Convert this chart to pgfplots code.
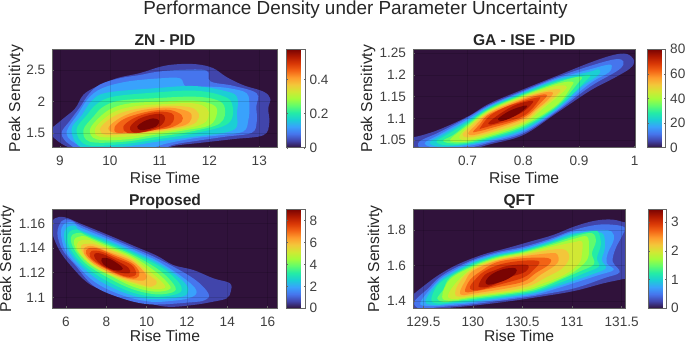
\documentclass[border=0pt]{standalone}
\usepackage{fontspec}
\setmainfont{Liberation Sans}
\usepackage{pgfplots}
\pgfplotsset{compat=1.18}
\definecolor{t0}{RGB}{48,18,59}
\definecolor{t1}{RGB}{65,69,171}
\definecolor{t2}{RGB}{70,117,237}
\definecolor{t3}{RGB}{57,162,252}
\definecolor{t4}{RGB}{27,207,212}
\definecolor{t5}{RGB}{36,236,166}
\definecolor{t6}{RGB}{97,252,108}
\definecolor{t7}{RGB}{164,252,59}
\definecolor{t8}{RGB}{209,232,52}
\definecolor{t9}{RGB}{243,198,58}
\definecolor{t10}{RGB}{254,155,45}
\definecolor{t11}{RGB}{243,99,21}
\definecolor{t12}{RGB}{217,56,6}
\definecolor{t13}{RGB}{177,25,1}
\definecolor{t14}{RGB}{122,4,2}
\definecolor{fr}{RGB}{100,100,100}
\definecolor{tx}{RGB}{64,64,64}
\newcommand\lv[2]{\addplot[fill=t#1,draw=none,mark=none,smooth cycle,tension=0.6,forget plot] coordinates {#2};}
\newcommand\tk{\fontsize{13.6bp}{16bp}\selectfont}
\pgfplotsset{
 colormap={turbo}{rgb255=(48,18,59) rgb255=(65,69,171) rgb255=(70,117,237) rgb255=(57,162,252) rgb255=(27,207,212) rgb255=(36,236,166) rgb255=(97,252,108) rgb255=(164,252,59) rgb255=(209,232,52) rgb255=(243,198,58) rgb255=(254,155,45) rgb255=(243,99,21) rgb255=(217,56,6) rgb255=(177,25,1) rgb255=(122,4,2)},
 panel/.style={
  scale only axis, anchor=south west,
  axis background/.style={fill=t0},
  axis on top, grid=major, grid style={black,opacity=0.13,line width=0.4bp},
  axis line style={fr,line width=0.7bp},
  tick align=inside, major tick length=2bp, tick style={fr,line width=0.4bp},
  xtick pos=bottom, ytick pos=left,
  tick label style={font=\tk,text=tx},
  x tick label style={yshift=-5bp},
  y tick label style={xshift=-3.5bp},
  xlabel style={at={(axis description cs:0.5,0)},anchor=base,yshift=-36bp,font=\fontsize{15.7bp}{18bp}\selectfont,text=black!85},
  title style={at={(axis description cs:0.5,1)},anchor=base,yshift=-2bp,font=\fontsize{15.6bp}{18bp}\selectfont\bfseries,text=black!85},
  xlabel={Rise Time}, ylabel={Peak Sensitivty},
  colorbar,
  colorbar shift/.style={},
  colorbar style={
   at={(parent axis.north east)},anchor=north west,
   scale only axis,
   axis line style={fr,line width=0.7bp},
   tick align=inside, major tick length=1.5bp, tick style={fr,line width=0.4bp},
   y tick label style={font=\tk,text=tx,xshift=1bp},
   yticklabel pos=right,
  },
 },
 low/.style={xlabel style={yshift=2.8bp}},
 yl/.style={ylabel style={at={(axis description cs:#1,0.5)},anchor=center,rotate=0,font=\fontsize{15.7bp}{18bp}\selectfont,text=black!85}},
}
\begin{document}
\begin{tikzpicture}[x=1bp,y=1bp]
\path[use as bounding box] (0,0) rectangle (685,345);
\node[font=\fontsize{18.9bp}{22bp}\selectfont,text=black!85,anchor=base] at (355.5,331) {Performance Density under Parameter Uncertainty};

% ZN - PID
\begin{axis}[panel,yl=-0.161,at={(52.3bp,197.3bp)},width=225.4bp,height=98.4bp,
 xmin=8.845,xmax=13.37,ymin=1.274,ymax=2.826,
 xtick={9,10,11,12,13},xticklabels={9,10,11,12,13},
 ytick={1.5,2,2.5},yticklabels={1.5,2,2.5},
 title={ZN - PID},
 point meta min=0,point meta max=0.5756,
 colorbar style={xshift=9bp,width=18.3bp,height=98.4bp,ytick={0,0.2,0.4},yticklabels={0,0.2,0.4}},
]
\lv{1}{(8.80,1.53) (9.03,1.71) (9.30,1.89) (9.47,2.11) (9.74,2.24) (10.14,2.37) (10.60,2.45) (11.01,2.55) (11.34,2.59) (11.74,2.59) (12.07,2.53) (12.34,2.39) (12.68,2.26) (13.08,2.16) (13.22,2.05) (13.18,1.89) (13.20,1.66) (13.08,1.47) (12.48,1.41) (11.81,1.35) (11.27,1.30) (10.94,1.21) (9.47,1.21) (9.23,1.26) (8.97,1.37)}
\lv{2}{(9.03,1.50) (9.20,1.70) (9.40,1.91) (9.57,2.11) (9.80,2.27) (10.20,2.37) (10.60,2.42) (10.94,2.47) (11.41,2.50) (11.94,2.49) (12.02,2.32) (12.48,2.25) (12.95,2.13) (12.94,1.92) (12.95,1.69) (12.85,1.51) (12.34,1.45) (11.81,1.39) (11.27,1.32) (10.87,1.21) (9.60,1.21) (9.20,1.32)}
\lv{3}{(9.13,1.50) (9.37,1.816) (9.57,2.053) (9.84,2.21) (10.34,2.316) (11.01,2.368) (11.41,2.368) (11.54,2.237) (12.01,2.237) (12.41,2.21) (12.75,2.13) (12.80,1.92) (12.78,1.71) (12.68,1.53) (12.21,1.47) (11.67,1.42) (11.14,1.34) (10.74,1.26) (9.80,1.21) (9.40,1.30)}
\lv{4}{(9.23,1.553) (9.44,1.789) (9.64,2.016) (9.94,2.142) (10.87,2.21) (11.68,2.247) (12.28,2.174) (12.55,2.079) (12.55,1.816) (12.48,1.553) (11.68,1.447) (10.94,1.368) (10.27,1.289) (9.47,1.263)}
\lv{5}{(9.33,1.553) (9.54,1.789) (9.74,1.963) (10.07,2.079) (10.87,2.142) (11.68,2.174) (12.21,2.105) (12.45,1.974) (12.38,1.658) (11.68,1.50) (10.94,1.405) (10.27,1.332) (9.54,1.316)}
\lv{6}{(9.47,1.553) (9.67,1.763) (9.87,1.921) (10.20,2.016) (10.87,2.053) (11.68,2.079) (12.15,2.026) (12.31,1.895) (12.21,1.658) (11.61,1.526) (10.87,1.437) (10.27,1.368) (9.60,1.368)}
\lv{7}{(9.60,1.553) (9.77,1.737) (10.04,1.895) (10.41,1.974) (11.01,2.0) (11.68,2.016) (12.08,1.947) (12.15,1.816) (12.01,1.632) (11.54,1.553) (10.87,1.474) (10.34,1.405) (9.74,1.405)}
\lv{8}{(9.70,1.563) (9.87,1.721) (10.14,1.858) (10.54,1.932) (11.14,1.963) (11.68,1.974) (11.95,1.895) (11.98,1.763) (11.88,1.658) (11.54,1.579) (10.94,1.511) (10.34,1.447) (9.80,1.447)}
\lv{9}{(9.80,1.563) (9.97,1.711) (10.24,1.826) (10.61,1.895) (11.14,1.932) (11.61,1.911) (11.78,1.816) (11.74,1.684) (11.51,1.605) (11.01,1.537) (10.47,1.50) (9.94,1.474)}
\lv{10}{(9.97,1.579) (10.14,1.711) (10.41,1.816) (10.74,1.879) (11.21,1.905) (11.58,1.842) (11.64,1.737) (11.51,1.632) (11.07,1.563) (10.61,1.526) (10.14,1.50)}
\lv{11}{(10.10,1.605) (10.27,1.721) (10.54,1.80) (10.87,1.858) (11.21,1.868) (11.44,1.789) (11.44,1.684) (11.21,1.589) (10.87,1.553) (10.47,1.526) (10.14,1.511)}
\lv{12}{(10.27,1.605) (10.44,1.721) (10.71,1.805) (11.01,1.842) (11.24,1.816) (11.29,1.737) (11.21,1.632) (10.94,1.563) (10.61,1.511) (10.34,1.511)}
\lv{13}{(10.41,1.605) (10.57,1.721) (10.81,1.789) (11.04,1.805) (11.11,1.737) (11.04,1.632) (10.81,1.553) (10.57,1.511) (10.44,1.526)}
\lv{14}{(10.55,1.605) (10.67,1.684) (10.87,1.737) (10.99,1.70) (10.94,1.616) (10.75,1.563) (10.61,1.553)}
\end{axis}

% GA - ISE - PID
\begin{axis}[panel,yl=-0.202,at={(413bp,197.3bp)},width=222.3bp,height=98.4bp,
 xmin=0.602,xmax=1.0012,ymin=1.0323,ymax=1.2592,
 xtick={0.7,0.8,0.9,1},xticklabels={0.7,0.8,0.9,1},
 ytick={1.05,1.1,1.15,1.2,1.25},yticklabels={1.05,1.1,1.15,1.2,1.25},
 title={GA - ISE - PID},
 point meta min=0,point meta max=80,
 colorbar style={xshift=12.4bp,width=18bp,height=98.4bp,ytick={0,20,40,60,80},yticklabels={0,20,40,60,80}},
]
\lv{1}{(0.593,1.05) (0.620,1.0615) (0.650,1.0746) (0.700,1.1038) (0.740,1.1346) (0.800,1.1669) (0.860,1.1977) (0.920,1.2285) (0.962,1.2462) (0.986,1.2485) (0.999,1.2331) (0.992,1.2154) (0.962,1.1923) (0.920,1.1638) (0.860,1.1123) (0.800,1.0615) (0.740,1.04) (0.700,1.0269) (0.650,1.0192) (0.602,1.0192)}
\lv{2}{(0.611,1.042) (0.620,1.0515) (0.650,1.0685) (0.700,1.1023) (0.740,1.1315) (0.800,1.1638) (0.860,1.1946) (0.920,1.2208) (0.965,1.2362) (0.980,1.2308) (0.971,1.2115) (0.920,1.1731) (0.860,1.1154) (0.800,1.0654) (0.740,1.0438) (0.700,1.0315) (0.650,1.0254) (0.617,1.0308)}
\lv{3}{(0.623,1.042) (0.650,1.0631) (0.700,1.0985) (0.740,1.1292) (0.800,1.1615) (0.860,1.1915) (0.920,1.2131) (0.950,1.2231) (0.959,1.2215) (0.953,1.2054) (0.920,1.1808) (0.860,1.1185) (0.800,1.0692) (0.740,1.0469) (0.700,1.0362) (0.650,1.0308)}
\lv{4}{(0.632,1.0438) (0.650,1.0585) (0.700,1.0946) (0.740,1.1269) (0.800,1.1592) (0.860,1.1885) (0.920,1.2077) (0.936,1.2131) (0.935,1.20) (0.905,1.1731) (0.860,1.1215) (0.800,1.0731) (0.740,1.05) (0.700,1.0392) (0.650,1.0346)}
\lv{5}{(0.644,1.0462) (0.662,1.0615) (0.70,1.0908) (0.74,1.1246) (0.80,1.1569) (0.86,1.1854) (0.905,1.1977) (0.919,1.20) (0.914,1.1885) (0.86,1.1246) (0.80,1.0769) (0.74,1.0531) (0.70,1.0415) (0.662,1.0377)}
\lv{6}{(0.656,1.0485) (0.674,1.0615) (0.70,1.0869) (0.74,1.1223) (0.80,1.1546) (0.86,1.1823) (0.893,1.1946) (0.905,1.1946) (0.899,1.1823) (0.86,1.1277) (0.80,1.0808) (0.74,1.0562) (0.70,1.0438) (0.671,1.0423)}
\lv{7}{(0.669,1.0515) (0.70,1.0831) (0.74,1.12) (0.80,1.1523) (0.86,1.1792) (0.887,1.1846) (0.887,1.1746) (0.86,1.1308) (0.80,1.0846) (0.74,1.0592) (0.70,1.0469) (0.680,1.0454)}
\lv{8}{(0.685,1.0562) (0.70,1.0792) (0.74,1.1177) (0.80,1.15) (0.854,1.1731) (0.877,1.1746) (0.872,1.1615) (0.836,1.1231) (0.80,1.0885) (0.74,1.0631) (0.70,1.05)}
\lv{9}{(0.691,1.0615) (0.704,1.0792) (0.74,1.1154) (0.80,1.1477) (0.842,1.1638) (0.866,1.1669) (0.860,1.1538) (0.830,1.1231) (0.80,1.0923) (0.74,1.0669) (0.704,1.0562)}
\lv{10}{(0.701,1.0654) (0.713,1.0823) (0.74,1.1131) (0.80,1.1454) (0.836,1.1592) (0.853,1.1592) (0.845,1.1438) (0.821,1.1177) (0.80,1.0977) (0.74,1.0715) (0.71,1.0615)}
\lv{11}{(0.71,1.0692) (0.722,1.0862) (0.74,1.11) (0.80,1.1423) (0.83,1.1538) (0.843,1.1538) (0.833,1.1385) (0.80,1.1015) (0.74,1.0769) (0.716,1.0692)}
\lv{12}{(0.722,1.0769) (0.74,1.1062) (0.77,1.1269) (0.80,1.1392) (0.824,1.1477) (0.829,1.1438) (0.80,1.1054) (0.74,1.0823) (0.725,1.0769)}
\lv{13}{(0.737,1.0885) (0.755,1.1077) (0.782,1.1285) (0.806,1.1385) (0.818,1.1385) (0.80,1.1154) (0.77,1.0977) (0.746,1.0869)}
\lv{14}{(0.755,1.0992) (0.776,1.1177) (0.80,1.1285) (0.807,1.1269) (0.788,1.1077) (0.764,1.0946)}
\end{axis}

% Proposed
\begin{axis}[panel,low,yl=-0.201,at={(52.3bp,36.7bp)},width=225.4bp,height=99bp,
 xmin=5.32,xmax=16.5,ymin=1.0911,ymax=1.1714,
 xtick={6,8,10,12,14,16},xticklabels={6,8,10,12,14,16},
 ytick={1.1,1.12,1.14,1.16},yticklabels={1.1,1.12,1.14,1.16},
 title={Proposed},
 point meta min=0,point meta max=9.03,
 colorbar style={xshift=9bp,width=18.3bp,height=99bp,ytick={0,2,4,6,8},yticklabels={0,2,4,6,8}},
]
\lv{1}{(5.45,1.1641) (5.95,1.1649) (6.69,1.16) (8.02,1.1511) (9.34,1.1419) (10.50,1.1338) (11.32,1.1262) (12.31,1.1222) (13.31,1.1154) (14.13,1.1114) (14.17,1.1046) (13.97,1.0992) (13.31,1.0965) (12.31,1.0938) (10.99,1.0924) (9.67,1.097) (8.35,1.1032) (7.19,1.1105) (6.28,1.1249) (5.62,1.1397) (5.24,1.1573)}
\lv{2}{(5.79,1.1619) (6.20,1.163) (6.69,1.1586) (8.02,1.1495) (9.26,1.1408) (10.66,1.1305) (12.31,1.1154) (13.06,1.1032) (12.89,1.0978) (12.15,1.0959) (10.17,1.0943) (8.68,1.0997) (7.36,1.1095) (6.45,1.1262) (5.83,1.1384) (5.57,1.1519)}
\lv{3}{(5.90,1.1595) (6.36,1.1608) (6.69,1.1568) (8.02,1.1478) (9.26,1.1392) (10.66,1.1284) (12.07,1.1127) (12.48,1.1041) (12.07,1.0992) (11.16,1.097) (10.17,1.0965) (8.84,1.1014) (7.52,1.1114) (6.53,1.1262) (5.95,1.1384) (5.75,1.1519)}
\lv{4}{(6.03,1.1565) (6.45,1.1581) (6.69,1.1546) (8.02,1.1462) (9.26,1.1376) (10.66,1.1268) (11.74,1.1141) (12.07,1.1059) (11.74,1.1005) (10.25,1.0986) (9.01,1.103) (7.69,1.1132) (6.66,1.1268) (6.12,1.1384) (5.90,1.1492)}
\lv{5}{(6.17,1.1532) (6.53,1.1551) (6.86,1.1522) (8.02,1.1446) (9.26,1.1362) (10.66,1.1249) (11.49,1.1141) (11.74,1.1059) (11.32,1.1019) (10.33,1.1005) (9.17,1.1046) (7.85,1.1149) (6.83,1.1268) (6.25,1.1384) (6.07,1.1473)}
\lv{6}{(6.30,1.1505) (6.69,1.1524) (7.02,1.15) (8.02,1.1432) (9.26,1.1349) (10.50,1.1235) (11.24,1.1127) (11.40,1.1051) (10.50,1.1024) (9.26,1.1068) (8.02,1.1165) (7.02,1.1268) (6.48,1.137) (6.25,1.1451)}
\lv{7}{(6.45,1.1478) (6.86,1.1497) (7.19,1.1478) (8.02,1.1419) (9.26,1.1335) (10.33,1.1222) (10.99,1.1127) (11.16,1.1068) (10.41,1.1046) (9.34,1.1086) (8.26,1.117) (7.27,1.1257) (6.64,1.1357) (6.40,1.143)}
\lv{8}{(6.61,1.1451) (7.02,1.1468) (7.36,1.1451) (8.02,1.1405) (9.26,1.1322) (10.17,1.1208) (10.74,1.1127) (10.91,1.1078) (10.33,1.1068) (9.42,1.1105) (8.51,1.1159) (7.52,1.1235) (6.86,1.1322) (6.56,1.1397)}
\lv{9}{(6.78,1.1424) (7.19,1.1435) (7.52,1.1424) (8.18,1.1384) (9.26,1.1308) (10.08,1.1186) (10.50,1.1127) (10.25,1.1086) (9.59,1.1111) (8.68,1.1159) (7.77,1.1235) (7.11,1.1308) (6.78,1.1376)}
\lv{10}{(6.94,1.1405) (7.36,1.1414) (8.18,1.1365) (9.26,1.1295) (9.92,1.1195) (9.97,1.1149) (9.67,1.1135) (8.84,1.1159) (7.93,1.1219) (7.27,1.1284) (6.89,1.1357)}
\lv{11}{(7.11,1.1397) (7.60,1.1395) (8.35,1.1343) (9.26,1.1278) (9.64,1.1203) (9.47,1.1154) (8.84,1.1168) (8.02,1.1227) (7.36,1.1289) (6.99,1.1357)}
\lv{12}{(7.27,1.1376) (7.77,1.137) (8.51,1.1316) (9.26,1.1262) (9.47,1.1186) (9.01,1.1168) (8.26,1.1214) (7.60,1.1273) (7.19,1.133)}
\lv{13}{(7.44,1.1357) (7.85,1.1349) (8.51,1.1297) (9.09,1.1241) (9.14,1.1195) (8.51,1.1208) (7.85,1.1254) (7.44,1.1316)}
\lv{14}{(7.77,1.1316) (8.18,1.1311) (8.76,1.1249) (8.76,1.1222) (8.35,1.1222) (7.85,1.1268)}
\end{axis}

% QFT
\begin{axis}[panel,low,yl=-0.179,at={(413bp,36.7bp)},width=212.3bp,height=99bp,
 xmin=129.396,xmax=131.537,ymin=1.3586,ymax=1.9165,
 xtick={129.5,130,130.5,131,131.5},xticklabels={129.5,130,130.5,131,131.5},
 ytick={1.4,1.6,1.8},yticklabels={1.4,1.6,1.8},
 title={QFT},
 point meta min=0,point meta max=3.45,
 colorbar style={xshift=23.4bp,width=18bp,height=99bp,ytick={0,1,2,3},yticklabels={0,1,2,3}},
]
\lv{1}{(129.35,1.406) (129.54,1.500) (129.70,1.562) (129.87,1.612) (130.11,1.663) (130.34,1.697) (130.58,1.735) (130.81,1.772) (131.02,1.819) (131.22,1.851) (131.39,1.859) (131.52,1.844) (131.69,1.810) (131.69,1.547) (131.52,1.524) (131.32,1.500) (131.02,1.456) (130.68,1.424) (130.34,1.396) (130.01,1.374) (129.67,1.355) (129.47,1.330) (129.35,1.330)}
\lv{2}{(129.41,1.396) (129.55,1.471) (129.64,1.522) (129.77,1.571) (130,1.631) (130.24,1.674) (130.51,1.705) (130.78,1.750) (131.02,1.800) (131.25,1.829) (131.42,1.829) (131.53,1.814) (131.51,1.772) (131.44,1.697) (131.41,1.622) (131.48,1.562) (131.32,1.528) (131.02,1.471) (130.68,1.434) (130.51,1.419) (130,1.381) (129.77,1.370) (129.64,1.364) (129.47,1.355)}
\lv{3}{(129.47,1.392) (129.64,1.509) (129.77,1.560) (130,1.624) (130.24,1.667) (130.51,1.697) (130.78,1.742) (131.02,1.791) (131.29,1.80) (131.40,1.791) (131.42,1.744) (131.36,1.669) (131.35,1.612) (131.42,1.575) (131.25,1.543) (130.98,1.494) (130.68,1.443) (130.51,1.426) (130,1.389) (129.77,1.377) (129.64,1.372) (129.54,1.372)}
\lv{4}{(129.52,1.396) (129.64,1.498) (129.77,1.550) (130,1.616) (130.24,1.659) (130.51,1.689) (130.78,1.735) (131.02,1.780) (131.25,1.787) (131.32,1.772) (131.33,1.697) (131.30,1.631) (131.34,1.584) (131.19,1.547) (130.97,1.505) (130.68,1.453) (130.51,1.434) (130,1.396) (129.77,1.385) (129.64,1.377)}
\lv{5}{(129.58,1.406) (129.64,1.486) (129.77,1.541) (130,1.609) (130.24,1.654) (130.51,1.684) (130.78,1.727) (131.02,1.772) (131.22,1.795) (131.27,1.782) (131.29,1.716) (131.25,1.641) (131.27,1.594) (131.12,1.556) (130.95,1.518) (130.68,1.462) (130.51,1.441) (130,1.404) (129.77,1.391) (129.65,1.385)}
\lv{6}{(129.64,1.415) (129.70,1.462) (129.77,1.532) (130,1.601) (130.24,1.648) (130.51,1.678) (130.78,1.720) (131.02,1.763) (131.20,1.782) (131.24,1.735) (131.20,1.669) (131.22,1.607) (131.07,1.565) (130.92,1.528) (130.68,1.471) (130.51,1.449) (130,1.411) (129.77,1.396) (129.69,1.396)}
\lv{7}{(129.69,1.424) (129.77,1.522) (130,1.594) (130.24,1.642) (130.51,1.673) (130.78,1.712) (131.02,1.750) (131.15,1.763) (131.17,1.697) (131.15,1.631) (131.02,1.565) (130.85,1.518) (130.68,1.481) (130.51,1.456) (130,1.419) (129.77,1.402)}
\lv{8}{(129.75,1.434) (129.84,1.509) (130,1.586) (130.24,1.637) (130.51,1.667) (130.78,1.703) (131.02,1.731) (131.10,1.735) (131.10,1.669) (131.07,1.612) (130.92,1.547) (130.68,1.494) (130.51,1.464) (130,1.424) (129.80,1.411)}
\lv{9}{(129.82,1.443) (129.87,1.509) (130,1.579) (130.24,1.631) (130.51,1.659) (130.78,1.688) (130.93,1.688) (130.97,1.641) (130.90,1.584) (130.75,1.537) (130.51,1.475) (130,1.432) (129.86,1.424)}
\lv{10}{(129.87,1.453) (129.92,1.509) (130,1.569) (130.24,1.626) (130.51,1.652) (130.78,1.669) (130.85,1.663) (130.85,1.612) (130.68,1.547) (130.51,1.490) (130,1.441) (129.89,1.434)}
\lv{11}{(129.92,1.462) (129.97,1.518) (130.06,1.560) (130.24,1.618) (130.51,1.641) (130.76,1.641) (130.77,1.607) (130.63,1.556) (130.51,1.509) (130.28,1.481) (130,1.453) (129.94,1.449)}
\lv{12}{(129.97,1.481) (130.02,1.518) (130.11,1.565) (130.28,1.607) (130.51,1.627) (130.67,1.622) (130.61,1.575) (130.51,1.532) (130.28,1.494) (130.07,1.462) (129.99,1.462)}
\lv{13}{(130.06,1.494) (130.12,1.547) (130.23,1.575) (130.36,1.599) (130.55,1.603) (130.53,1.565) (130.39,1.537) (130.28,1.509) (130.16,1.481) (130.07,1.477)}
\lv{14}{(130.13,1.513) (130.19,1.550) (130.31,1.580) (130.43,1.584) (130.43,1.556) (130.33,1.518) (130.19,1.494) (130.14,1.494)}
\end{axis}
\end{tikzpicture}
\end{document}
